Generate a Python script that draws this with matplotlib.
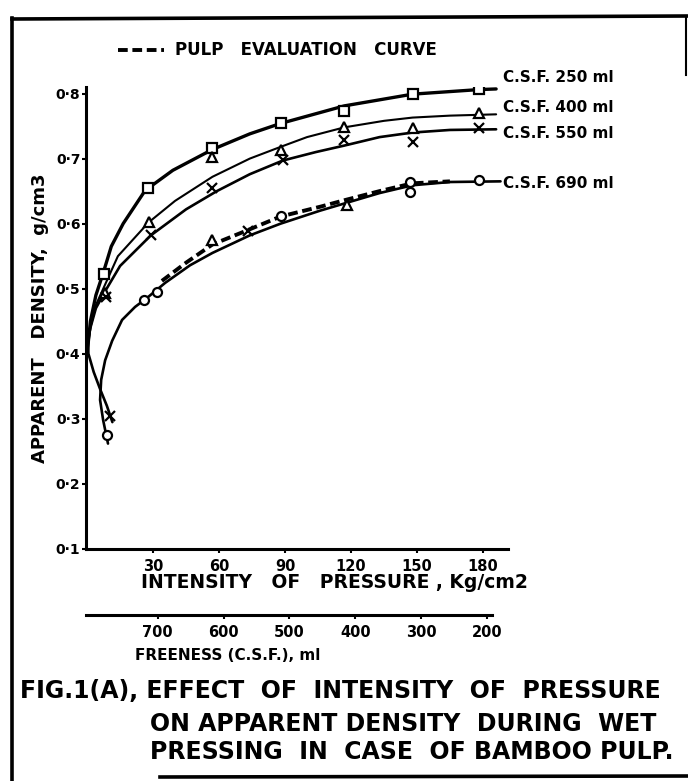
import matplotlib
matplotlib.use("Agg")
import matplotlib.pyplot as plt
from matplotlib.lines import Line2D

plt.rcParams['font.family'] = ['DejaVu Sans']
plt.rcParams['font.weight'] = 'bold'

W, H = 688, 781

# ---------------- data ----------------
# measured points: pressure (kg/cm2) and apparent density (g/cm3)
csf250_p = [7.5, 27.7, 57, 88, 117, 148, 178]
csf250_d = [0.522, 0.655, 0.716, 0.754, 0.773, 0.799, 0.807]

csf400_p = [8, 28, 57, 88, 117, 148, 178]
csf400_d = [0.493, 0.602, 0.702, 0.713, 0.748, 0.747, 0.770]

csf550_p = [10.5, 8.6, 29, 57, 89, 117, 148, 178]
csf550_d = [0.305, 0.487, 0.582, 0.655, 0.698, 0.728, 0.725, 0.747]

csf690_p = [9, 26, 32, 88, 147, 147, 178]
csf690_d = [0.275, 0.483, 0.495, 0.612, 0.648, 0.664, 0.667]

pulp_tri_p = [57, 118]
pulp_tri_d = [0.575, 0.628]
pulp_x_p = [73]
pulp_x_d = [0.588]

# hand-drawn fitted curves
fit250_p = [0, 1.5, 4, 7.3, 11, 16.4, 26.4, 39, 57, 74, 88, 117, 148, 178, 186]
fit250_d = [0.40, 0.45, 0.49, 0.524, 0.565, 0.60, 0.651, 0.682, 0.714, 0.738, 0.754, 0.781, 0.799, 0.806, 0.807]

fit400_p = [0, 1.5, 4, 8, 14, 28, 40, 57, 74, 88, 100, 117, 135, 148, 165, 186]
fit400_d = [0.40, 0.44, 0.475, 0.505, 0.55, 0.602, 0.635, 0.672, 0.700, 0.718, 0.733, 0.748, 0.758, 0.763, 0.766, 0.768]

fit550_p = [11.5, 9, 6, 3, 0.6, 0.4, 1.5, 4, 8, 15, 29, 45, 59, 74, 89, 104, 117, 133, 148, 165, 186]
fit550_d = [0.295, 0.32, 0.345, 0.372, 0.40, 0.42, 0.44, 0.47, 0.495, 0.535, 0.582, 0.622, 0.650, 0.676, 0.697, 0.710, 0.720, 0.733, 0.740, 0.744, 0.745]

fit690_p = [9.5, 7.3, 5.9, 6.4, 8.2, 11.4, 15.9, 21.8, 27.3, 35.5, 46.8, 57, 74, 88, 106, 117, 133, 148, 165, 188]
fit690_d = [0.262, 0.298, 0.329, 0.36, 0.39, 0.42, 0.452, 0.472, 0.486, 0.509, 0.536, 0.555, 0.582, 0.600, 0.620, 0.631, 0.647, 0.659, 0.664, 0.665]

pulp_p = [34, 45, 57, 73, 88, 106, 117, 133, 148, 165]
pulp_d = [0.512, 0.540, 0.568, 0.590, 0.611, 0.626, 0.636, 0.650, 0.662, 0.665]

y_ticks = [0.1, 0.2, 0.3, 0.4, 0.5, 0.6, 0.7, 0.8]
y_tick_labels = ['0·1', '0·2', '0·3', '0·4', '0·5', '0·6', '0·7', '0·8']
x_ticks = [30, 60, 90, 120, 150, 180]
freeness_ticks = [700, 600, 500, 400, 300, 200]

curve_labels = ['C.S.F. 250 ml', 'C.S.F. 400 ml', 'C.S.F. 550 ml', 'C.S.F. 690 ml']

# ---------------- figure ----------------
fig = plt.figure(figsize=(W / 100, H / 100), dpi=100)


def fx(px):
    return px / W


def fy(py):
    return 1 - py / H


ax = fig.add_axes([fx(86), fy(549), fx(508) - fx(86), fy(87) - fy(549)])
ax.set_xlim(-0.5, 191.4)
ax.set_ylim(0.1, 0.81)
for s in ['top', 'right']:
    ax.spines[s].set_visible(False)
for s in ['left', 'bottom']:
    ax.spines[s].set_linewidth(2.2)

ax.set_yticks(y_ticks)
ax.set_yticklabels(y_tick_labels, fontsize=10, fontweight='bold')
ax.set_xticks(x_ticks)
ax.set_xticklabels([str(t) for t in x_ticks], fontsize=10.5, fontweight='bold')
ax.tick_params(axis='both', length=3, width=1.5, direction='out')
ax.tick_params(axis='x', pad=4)
ax.tick_params(axis='y', pad=1)

k = 'black'
ax.plot(fit250_p, fit250_d, color=k, lw=2.4, solid_capstyle='round')
ax.plot(fit400_p, fit400_d, color=k, lw=1.5, solid_capstyle='round')
ax.plot(fit550_p, fit550_d, color=k, lw=1.9, solid_capstyle='round')
ax.plot(fit690_p, fit690_d, color=k, lw=1.9, solid_capstyle='round')
ax.plot(pulp_p, pulp_d, color=k, lw=2.8, linestyle=(0, (2.5, 1.2)))

mk = dict(color=k, linestyle='none', markerfacecolor='white', markeredgewidth=1.6, markersize=6.5)
ax.plot(csf250_p, csf250_d, marker='s', **mk)
ax.plot(csf400_p, csf400_d, marker='^', **mk)
ax.plot(csf550_p, csf550_d, marker='x', **mk)
ax.plot(csf690_p, csf690_d, marker='o', **mk)
ax.plot(pulp_tri_p, pulp_tri_d, marker='^', **mk)
ax.plot(pulp_x_p, pulp_x_d, marker='x', **mk)

# curve labels
label_y = [77, 107, 133, 183]
for lab, py in zip(curve_labels, label_y):
    fig.text(fx(503), fy(py), lab, fontsize=11, fontweight='bold', va='center', ha='left')

# ---------------- freeness axis ----------------
ax2 = fig.add_axes([fx(86), fy(615), fx(492) - fx(86), 0.0005])
ax2.set_xlim(809, 192.4)
ax2.set_ylim(0, 1)
ax2.patch.set_visible(False)
for s in ['top', 'right', 'left']:
    ax2.spines[s].set_visible(False)
ax2.spines['bottom'].set_linewidth(2.2)
ax2.set_yticks([])
ax2.set_xticks(freeness_ticks)
ax2.set_xticklabels([str(t) for t in freeness_ticks], fontsize=10.5, fontweight='bold')
ax2.tick_params(axis='x', length=3, width=1.5, direction='out', pad=4)

# ---------------- texts ----------------
fig.text(fx(334), fy(582), 'INTENSITY   OF   PRESSURE , Kg/cm2', fontsize=13.5,
         fontweight='bold', ha='center', va='center')
fig.text(fx(228), fy(656), 'FREENESS (C.S.F.), ml', fontsize=11,
         fontweight='bold', ha='center', va='center')
fig.text(fx(40), fy(318), 'APPARENT   DENSITY,  g/cm3', fontsize=13,
         fontweight='bold', ha='center', va='center', rotation=90)

fig.add_artist(Line2D([fx(118), fx(164)], [fy(50), fy(50)], color=k, lw=2.8,
                      linestyle=(0, (2.5, 1.2))))
fig.text(fx(175), fy(50), 'PULP   EVALUATION   CURVE', fontsize=12,
         fontweight='bold', ha='left', va='center')

fig.text(fx(20), fy(691), 'FIG.1(A), EFFECT  OF  INTENSITY  OF  PRESSURE', fontsize=17,
         fontweight='bold', ha='left', va='center')
fig.text(fx(150), fy(724), 'ON APPARENT DENSITY  DURING  WET', fontsize=17,
         fontweight='bold', ha='left', va='center')
fig.text(fx(150), fy(752), 'PRESSING  IN  CASE  OF BAMBOO PULP.', fontsize=17,
         fontweight='bold', ha='left', va='center')

# ---------------- frame ----------------
fig.add_artist(Line2D([fx(12), fx(12)], [fy(18), fy(781)], color=k, lw=2.6))
fig.add_artist(Line2D([fx(12), fx(688)], [fy(19), fy(16)], color=k, lw=2.6))
fig.add_artist(Line2D([fx(686), fx(686)], [fy(16), fy(75)], color=k, lw=1.5))
fig.add_artist(Line2D([fx(160), fx(688)], [fy(777), fy(776)], color=k, lw=2.6))

fig.savefig('out.png', dpi=100)
